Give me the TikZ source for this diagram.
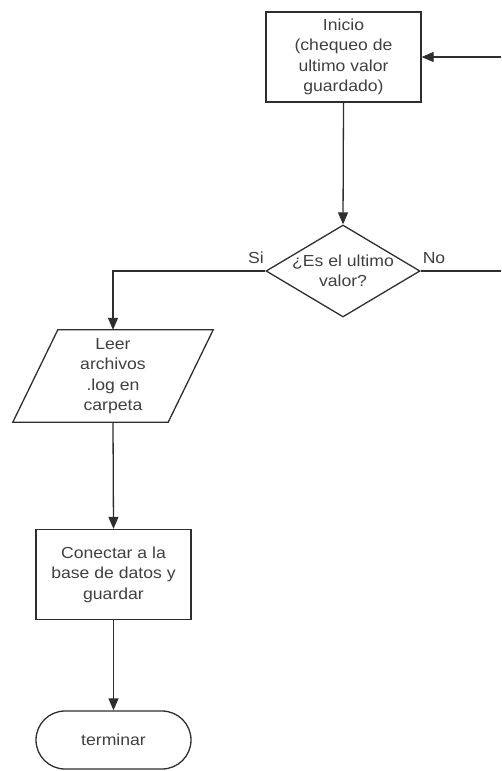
\documentclass[tikz,border=0pt]{standalone}
\usepackage{fontspec}
\setmainfont{Liberation Sans}[FakeStretch=1.1]
\usetikzlibrary{arrows.meta,shapes.geometric,calc}
\definecolor{ink}{HTML}{2E2E2E}
\definecolor{txt}{HTML}{404040}

\begin{document}
\begin{tikzpicture}[x=1pt,y=-1pt,
  every node/.style={font=\fontsize{16}{20.5}\selectfont, text=txt, align=center},
  proc/.style={draw=ink, line width=1.3pt, minimum width=155pt, minimum height=90pt, inner sep=0pt},
  decision/.style={diamond, draw=ink, line width=1.3pt, minimum width=154pt, minimum height=92pt, inner sep=0pt},
  ioslot/.style={minimum width=155pt, minimum height=92pt, inner sep=0pt},
  term/.style={draw=ink, line width=1.3pt, rounded corners=29pt, minimum width=155pt, minimum height=58pt, inner sep=0pt},
  flow/.style={draw=ink, line width=1.3pt, -{Triangle[length=12pt,width=10pt]}},
  link/.style={draw=ink, line width=1.3pt}]

\useasboundingbox (0,0) rectangle (501,771);

% nodes
\node[proc] (start) at (343.5,57) {Inicio\\(chequeo de\\ultimo valor\\guardado)};
\node[decision, label={[name=qtext]center:{¿Es el ultimo\\valor?}}] (q) at (343,271) {};
\node (si) at (256,258) {Si};
\node (no) at (434,258) {No};

\node[ioslot] (read) at (113,376) {Leer\\archivos\\.log en\\carpeta};
\draw[link] ([xshift=22.5pt]read.north west) -- ([xshift=22.5pt]read.north east)
  -- ([xshift=-22.5pt]read.south east) -- ([xshift=-22.5pt]read.south west) -- cycle;

\node[proc] (save) at (113.5,574.5) {Conectar a la\\base de datos y\\guardar};
\node[term] (end) at (113.5,740) {terminar};

% loose ends at the right border
\coordinate (loopin) at (501,57);
\coordinate (noout) at (501,271);

% connectors
\draw[flow] (loopin) -- (start.east);
\draw[flow] (start.south) -- (q.north);
\draw[flow] (q.west) -| (read.north);
\draw[link] (q.east) -- (noout);
\draw[flow] (read.south) -- (save.north);
\draw[flow] (save.south) -- (end.north);
\end{tikzpicture}
\end{document}
